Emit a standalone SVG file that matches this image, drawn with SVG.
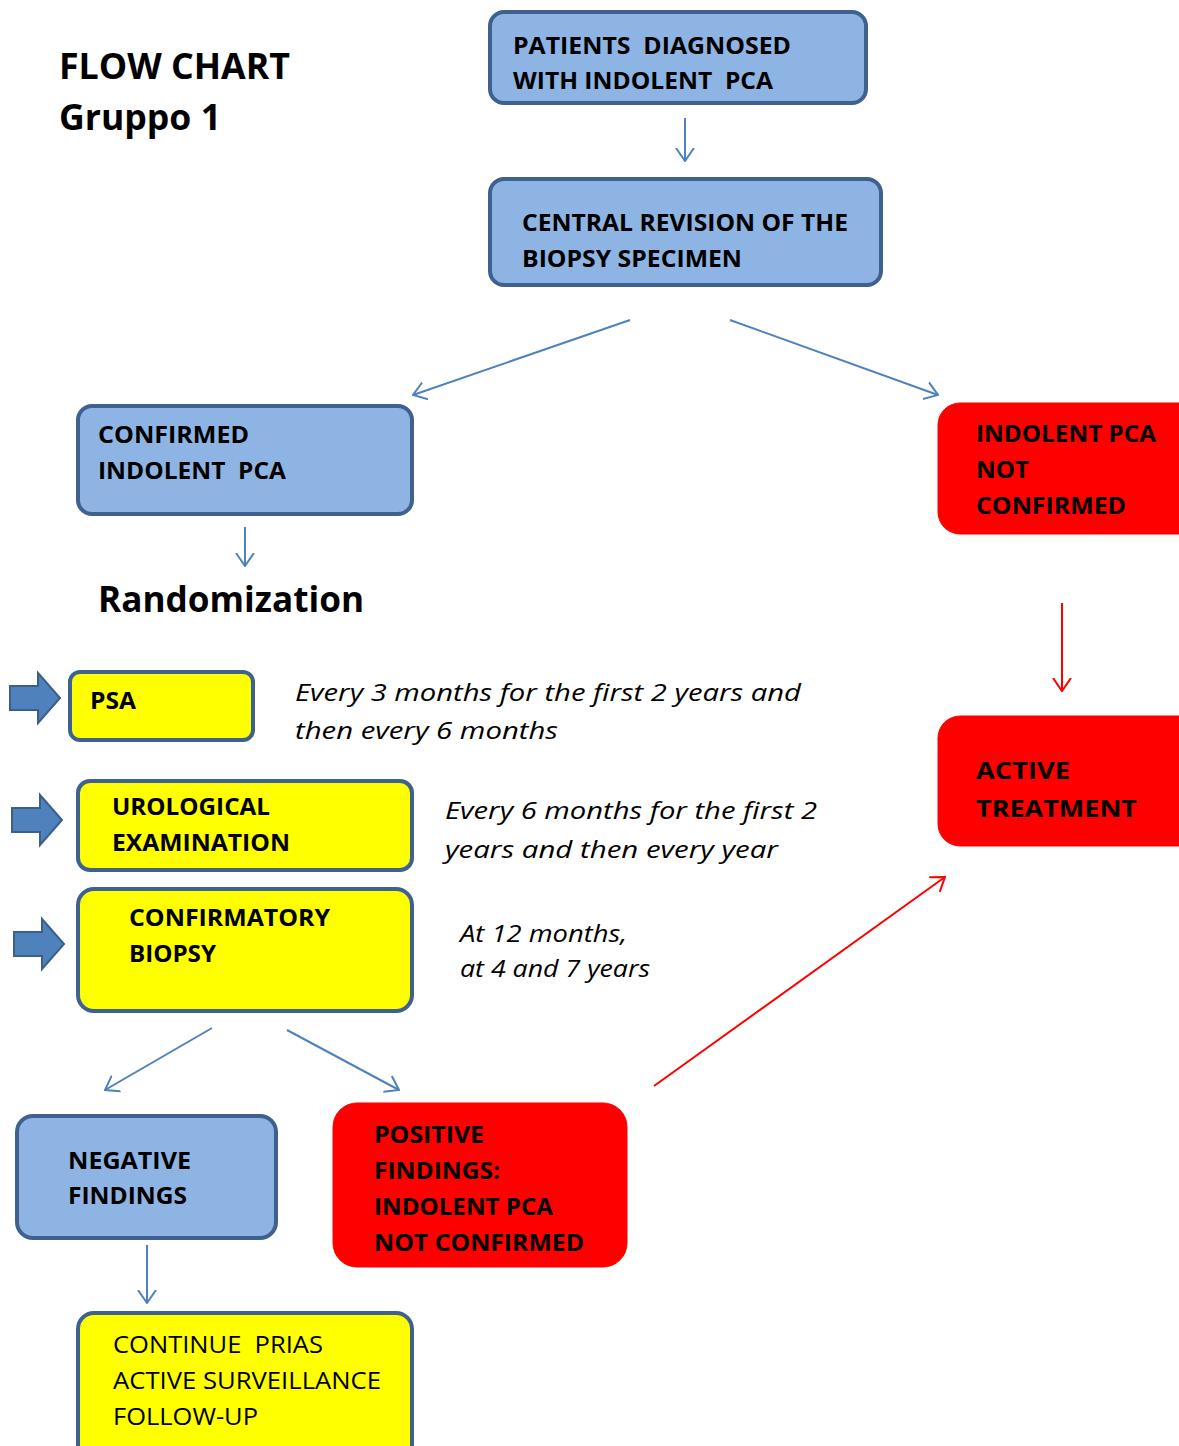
<svg xmlns="http://www.w3.org/2000/svg" width="1179" height="1446" viewBox="0 0 1179 1446">
<style>
text{white-space:pre}
.blue{fill:#8EB4E3;stroke:#3E6190;stroke-width:4}
.yel{fill:#FFFF00;stroke:#3E6190;stroke-width:4}
.red{fill:#FF0000;stroke:#FF0000;stroke-width:1}
.t{font-family:"Open Sans","Liberation Sans",sans-serif;font-weight:bold;font-size:23.5px;fill:#000}
.n{font-family:"Open Sans","Liberation Sans",sans-serif;font-size:23.5px;fill:#000}
.i{font-family:"Open Sans","Liberation Sans",sans-serif;font-style:italic;font-size:24.5px;fill:#000}
.h{font-family:"Open Sans","Liberation Sans",sans-serif;font-weight:bold;font-size:36px;fill:#000}
.cb{fill:none;stroke:#4F81BD;stroke-width:2}
.cr{fill:none;stroke:#FF0000;stroke-width:2}
.blk{fill:#4F81BD;stroke:#3A5F8C;stroke-width:2}
</style>
<defs>
<marker id="ab" viewBox="0 0 14 20" refX="13" refY="10" markerWidth="14" markerHeight="20" markerUnits="userSpaceOnUse" orient="auto">
<path d="M0,1 L13,10 L0,19" fill="none" stroke="#4F81BD" stroke-width="2"/>
</marker>
<marker id="ar" viewBox="0 0 14 20" refX="13" refY="10" markerWidth="14" markerHeight="20" markerUnits="userSpaceOnUse" orient="auto">
<path d="M0,1 L13,10 L0,19" fill="none" stroke="#FF0000" stroke-width="2"/>
</marker>
</defs>
<rect width="1179" height="1446" fill="#fff"/>

<g id="title">
<text class="h" x="59" y="79" textLength="231" lengthAdjust="spacingAndGlyphs">FLOW CHART</text>
<text class="h" x="59" y="130" textLength="162" lengthAdjust="spacingAndGlyphs">Gruppo 1</text>
</g>

<g id="patients">
<rect class="blue" x="490" y="12" width="376" height="91" rx="14"/>
<text class="t" x="513" y="54" textLength="278" lengthAdjust="spacingAndGlyphs">PATIENTS  DIAGNOSED</text>
<text class="t" x="513" y="89" textLength="260" lengthAdjust="spacingAndGlyphs">WITH INDOLENT  PCA</text>
</g>

<g id="central">
<rect class="blue" x="490" y="179" width="391" height="106" rx="14"/>
<text class="t" x="522" y="231" textLength="326" lengthAdjust="spacingAndGlyphs">CENTRAL REVISION OF THE</text>
<text class="t" x="522" y="267" textLength="220" lengthAdjust="spacingAndGlyphs">BIOPSY SPECIMEN</text>
</g>

<g id="confirmed">
<rect class="blue" x="78" y="406" width="334" height="108" rx="14"/>
<text class="t" x="98" y="443" textLength="151" lengthAdjust="spacingAndGlyphs">CONFIRMED</text>
<text class="t" x="98" y="479" textLength="188" lengthAdjust="spacingAndGlyphs">INDOLENT  PCA</text>
</g>

<g id="notconfirmed">
<rect class="red" x="938" y="403" width="270" height="131" rx="22"/>
<text class="t" x="976" y="442" textLength="180" lengthAdjust="spacingAndGlyphs">INDOLENT PCA</text>
<text class="t" x="976" y="478" textLength="53" lengthAdjust="spacingAndGlyphs">NOT</text>
<text class="t" x="976" y="514" textLength="150" lengthAdjust="spacingAndGlyphs">CONFIRMED</text>
</g>

<g id="randomization">
<text class="h" x="98" y="612" textLength="266" lengthAdjust="spacingAndGlyphs">Randomization</text>
</g>

<g id="psa">
<polygon class="blk" points="10,686 38,686 38,673 60,698 38,723 38,710 10,710"/>
<rect class="yel" x="70" y="672" width="183" height="68" rx="10"/>
<text class="t" x="90" y="709" textLength="46" lengthAdjust="spacingAndGlyphs">PSA</text>
<text class="i" x="295" y="701" textLength="506" lengthAdjust="spacingAndGlyphs">Every 3 months for the first 2 years and</text>
<text class="i" x="295" y="739" textLength="263" lengthAdjust="spacingAndGlyphs">then every 6 months</text>
</g>

<g id="urological">
<polygon class="blk" points="12,808 40,808 40,795 62,820 40,845 40,832 12,832"/>
<rect class="yel" x="78" y="781" width="334" height="89" rx="12"/>
<text class="t" x="112" y="815" textLength="158" lengthAdjust="spacingAndGlyphs">UROLOGICAL</text>
<text class="t" x="112" y="851" textLength="178" lengthAdjust="spacingAndGlyphs">EXAMINATION</text>
<text class="i" x="445" y="819" textLength="372" lengthAdjust="spacingAndGlyphs">Every 6 months for the first 2</text>
<text class="i" x="445" y="858" textLength="333" lengthAdjust="spacingAndGlyphs">years and then every year</text>
</g>

<g id="biopsy">
<polygon class="blk" points="14,932 42,932 42,919 64,944 42,969 42,956 14,956"/>
<rect class="yel" x="78" y="889" width="334" height="122" rx="16"/>
<text class="t" x="129" y="926" textLength="201" lengthAdjust="spacingAndGlyphs">CONFIRMATORY</text>
<text class="t" x="129" y="962" textLength="87" lengthAdjust="spacingAndGlyphs">BIOPSY</text>
<text class="i" x="460" y="942" textLength="167" lengthAdjust="spacingAndGlyphs">At 12 months,</text>
<text class="i" x="460" y="977" textLength="190" lengthAdjust="spacingAndGlyphs">at 4 and 7 years</text>
</g>

<g id="active">
<rect class="red" x="938" y="716" width="270" height="130" rx="22"/>
<text class="t" x="976" y="779" textLength="94" lengthAdjust="spacingAndGlyphs">ACTIVE</text>
<text class="t" x="976" y="817" textLength="161" lengthAdjust="spacingAndGlyphs">TREATMENT</text>
</g>

<g id="negative">
<rect class="blue" x="17" y="1116" width="259" height="122" rx="16"/>
<text class="t" x="68" y="1169" textLength="123" lengthAdjust="spacingAndGlyphs">NEGATIVE</text>
<text class="t" x="68" y="1204" textLength="119" lengthAdjust="spacingAndGlyphs">FINDINGS</text>
</g>

<g id="positive">
<rect class="red" x="333" y="1103" width="294" height="164" rx="24"/>
<text class="t" x="374" y="1143" textLength="110" lengthAdjust="spacingAndGlyphs">POSITIVE</text>
<text class="t" x="374" y="1179" textLength="126" lengthAdjust="spacingAndGlyphs">FINDINGS:</text>
<text class="t" x="374" y="1215" textLength="179" lengthAdjust="spacingAndGlyphs">INDOLENT PCA</text>
<text class="t" x="374" y="1251" textLength="210" lengthAdjust="spacingAndGlyphs">NOT CONFIRMED</text>
</g>

<g id="continue">
<rect class="yel" x="78" y="1313" width="334" height="150" rx="16"/>
<text class="n" x="113" y="1353" textLength="210" lengthAdjust="spacingAndGlyphs">CONTINUE  PRIAS</text>
<text class="n" x="113" y="1389" textLength="268" lengthAdjust="spacingAndGlyphs">ACTIVE SURVEILLANCE</text>
<text class="n" x="113" y="1425" textLength="145" lengthAdjust="spacingAndGlyphs">FOLLOW-UP</text>
</g>

<g id="connectors">
<line class="cb" x1="685" y1="118" x2="685" y2="161" marker-end="url(#ab)"/>
<line class="cb" x1="630" y1="320" x2="413" y2="395" marker-end="url(#ab)"/>
<line class="cb" x1="730" y1="320" x2="938" y2="395" marker-end="url(#ab)"/>
<line class="cb" x1="245" y1="527" x2="245" y2="566" marker-end="url(#ab)"/>
<line class="cb" x1="212" y1="1028" x2="105" y2="1090" marker-end="url(#ab)"/>
<line class="cb" x1="287" y1="1030" x2="399" y2="1090" marker-end="url(#ab)"/>
<line class="cb" x1="147" y1="1245" x2="147" y2="1303" marker-end="url(#ab)"/>
<line class="cr" x1="1062" y1="603" x2="1062" y2="691" marker-end="url(#ar)"/>
<line class="cr" x1="654" y1="1086" x2="945" y2="877" marker-end="url(#ar)"/>
</g>
</svg>
